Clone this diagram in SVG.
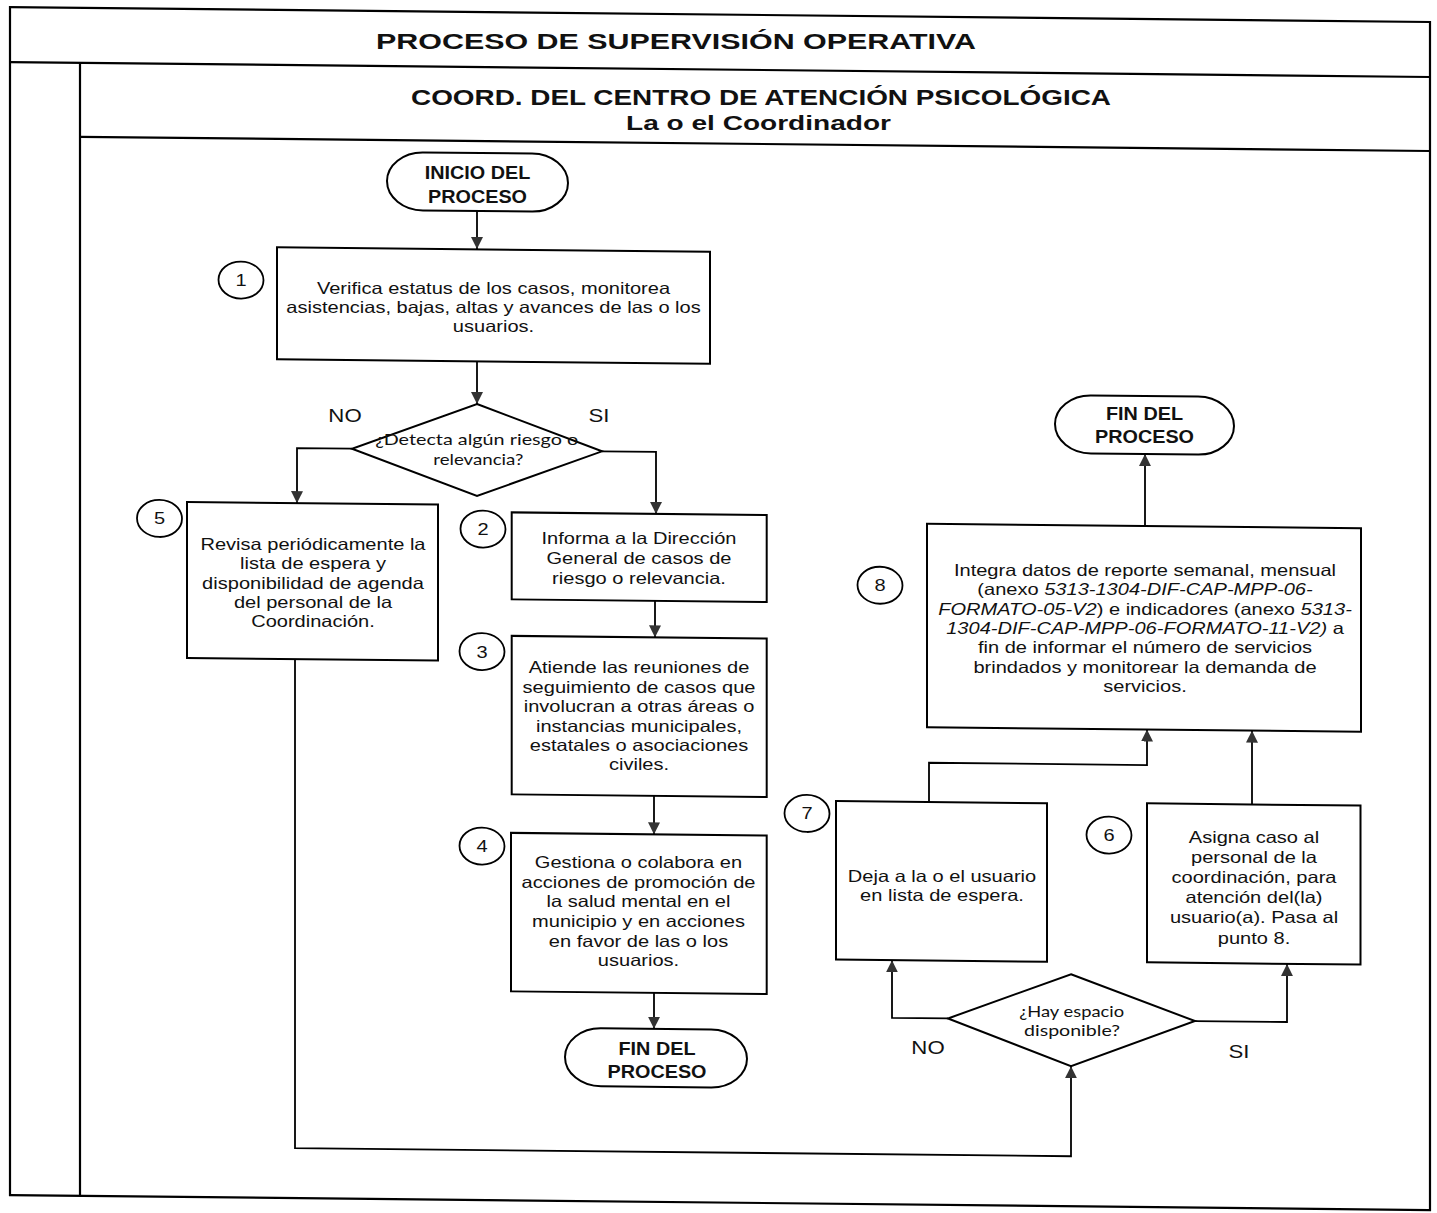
<svg xmlns="http://www.w3.org/2000/svg" width="1437" height="1213" viewBox="0 0 1437 1213">
  <defs>
    <marker id="arrow" viewBox="0 0 10 10" refX="10" refY="5" markerWidth="12" markerHeight="12" markerUnits="userSpaceOnUse" orient="auto">
      <path d="M0,0 L10,5 L0,10 z" fill="#333"/>
    </marker>
    <style>
      .frame { fill: none; stroke: #000; stroke-width: 2.2; }
      .box { fill: #fff; stroke: #000; stroke-width: 2; }
      .term { fill: #fff; stroke: #000; stroke-width: 2; }
      .num { fill: #fff; stroke: #000; stroke-width: 1.8; }
      .ln { fill: none; stroke: #000; stroke-width: 1.8; }
      .ln.arr { marker-end: url(#arrow); }
      .t { font-family: "Liberation Sans", Arial, sans-serif; font-size: 16.3px; text-anchor: middle; fill: #111; }
      .tb { font-family: "Liberation Sans", Arial, sans-serif; font-size: 18px; font-weight: bold; text-anchor: middle; fill: #111; }
      .hd { font-family: "Liberation Sans", Arial, sans-serif; font-weight: bold; text-anchor: middle; fill: #111; }
      .dq { font-family: Lato, "Liberation Sans", sans-serif; font-size: 15px; text-anchor: middle; fill: #111; }
      .lbl { font-family: "Liberation Sans", Arial, sans-serif; font-size: 18.5px; text-anchor: middle; fill: #111; }
      .it { font-style: italic; }
    </style>
  </defs>
  <rect width="1437" height="1213" fill="#fff"/>

  <!-- whole sheet, slightly skewed as printed; text elements undo the skew
       locally (matrix b term) so lines stay level and widened by 1.1-1.23 -->
  <g transform="matrix(1 0.0105 0 1 0 0)">

    <!-- frame and headers -->
    <g id="frame">
      <rect class="frame" x="10" y="7" width="1420" height="1188"/>
      <line class="frame" x1="10" y1="62" x2="1430" y2="62"/>
      <line class="frame" x1="80" y1="62" x2="80" y2="1195"/>
      <line class="frame" x1="80" y1="136" x2="1430" y2="136"/>
      <text class="hd" transform="matrix(1 -0.0105 0 1 676 0)" x="0" y="42" font-size="22.5" textLength="600" lengthAdjust="spacingAndGlyphs">PROCESO DE SUPERVISIÓN OPERATIVA</text>
      <text class="hd" transform="matrix(1 -0.0105 0 1 761 0)" x="0" y="97" font-size="21.5" textLength="700" lengthAdjust="spacingAndGlyphs">COORD. DEL CENTRO DE ATENCIÓN PSICOLÓGICA</text>
      <text class="hd" transform="matrix(1 -0.0105 0 1 758.5 0)" x="0" y="122" font-size="21" textLength="265" lengthAdjust="spacingAndGlyphs">La o el Coordinador</text>
    </g>

    <!-- connectors -->
    <g id="connectors">
      <path class="ln arr" d="M477,206 V244"/>
      <path class="ln arr" d="M477,356 V399"/>
      <path class="ln arr" d="M352,445 H297 V500"/>
      <path class="ln arr" d="M602,445 H656 V507"/>
      <path class="ln arr" d="M655,594 V630.5"/>
      <path class="ln arr" d="M654,789 V827.5"/>
      <path class="ln arr" d="M654,986 V1022"/>
      <path class="ln arr" d="M295,656 V1145 H1071 V1055"/>
      <path class="ln arr" d="M948,1008.5 H892 V951"/>
      <path class="ln arr" d="M1195,1008.5 H1287 V950.5"/>
      <path class="ln arr" d="M929,792.3 V753 H1147 V717.5"/>
      <path class="ln arr" d="M1252,791.3 V717.5"/>
      <path class="ln arr" d="M1145,514 V442"/>
      <text class="lbl" transform="matrix(1.2 -0.0126 0 1 345 0)" x="0" y="418">NO</text>
      <text class="lbl" transform="matrix(1.2 -0.0126 0 1 599 0)" x="0" y="416">SI</text>
      <text class="lbl" transform="matrix(1.2 -0.0126 0 1 928 0)" x="0" y="1044">NO</text>
      <text class="lbl" transform="matrix(1.2 -0.0126 0 1 1239 0)" x="0" y="1045">SI</text>
    </g>

    <!-- start -->
    <g id="inicio">
      <rect class="term" x="387" y="148" width="181" height="58" rx="36" ry="29"/>
      <text class="tb" transform="matrix(1.1 -0.01155 0 1 477.5 0)"><tspan x="0" y="174.3">INICIO DEL</tspan><tspan x="0" y="197.7">PROCESO</tspan></text>
    </g>

    <!-- step 1 -->
    <g id="step1">
      <rect class="box" x="277" y="244.3" width="433" height="112"/>
      <text class="t" transform="matrix(1.23 -0.0129 0 1 493.5 0)"><tspan x="0" y="289">Verifica estatus de los casos, monitorea</tspan><tspan x="0" y="308">asistencias, bajas, altas y avances de las o los</tspan><tspan x="0" y="327">usuarios.</tspan></text>
      <ellipse class="num" cx="241" cy="277.5" rx="22.5" ry="18.5"/>
      <text class="t" transform="matrix(1.23 -0.0129 0 1 241 0)" x="0" y="283.5">1</text>
    </g>

    <!-- decision: risk -->
    <g id="decision1">
      <polygon class="box" points="477,399 602,445 477,491 352,445"/>
      <text class="dq" transform="matrix(1 -0.0105 0 1 476.7 0)" x="0" y="440" textLength="203" lengthAdjust="spacingAndGlyphs">¿Detecta algún riesgo o</text>
      <text class="dq" transform="matrix(1 -0.0105 0 1 478.3 0)" x="0" y="460" textLength="90" lengthAdjust="spacingAndGlyphs">relevancia?</text>
    </g>

    <!-- step 5 -->
    <g id="step5">
      <rect class="box" x="187" y="500" width="251" height="156"/>
      <text class="t" transform="matrix(1.23 -0.0129 0 1 313 0)"><tspan x="0" y="546.7">Revisa periódicamente la</tspan><tspan x="0" y="566">lista de espera y</tspan><tspan x="0" y="585.3">disponibilidad de agenda</tspan><tspan x="0" y="604.6">del personal de la</tspan><tspan x="0" y="623.9">Coordinación.</tspan></text>
      <ellipse class="num" cx="159.5" cy="516.8" rx="22.5" ry="18.5"/>
      <text class="t" transform="matrix(1.23 -0.0129 0 1 159.5 0)" x="0" y="522.8">5</text>
    </g>

    <!-- step 2 -->
    <g id="step2">
      <rect class="box" x="511.7" y="507" width="255" height="87"/>
      <text class="t" transform="matrix(1.23 -0.0129 0 1 639 0)"><tspan x="0" y="537.3">Informa a la Dirección</tspan><tspan x="0" y="557.3">General de casos de</tspan><tspan x="0" y="577.3">riesgo o relevancia.</tspan></text>
      <ellipse class="num" cx="483" cy="524" rx="22.5" ry="18.5"/>
      <text class="t" transform="matrix(1.23 -0.0129 0 1 483 0)" x="0" y="530">2</text>
    </g>

    <!-- step 3 -->
    <g id="step3">
      <rect class="box" x="511.7" y="630.5" width="255" height="158.5"/>
      <text class="t" transform="matrix(1.23 -0.0129 0 1 639 0)"><tspan x="0" y="666.3">Atiende las reuniones de</tspan><tspan x="0" y="685.8">seguimiento de casos que</tspan><tspan x="0" y="705.3">involucran a otras áreas o</tspan><tspan x="0" y="724.8">instancias municipales,</tspan><tspan x="0" y="744.3">estatales o asociaciones</tspan><tspan x="0" y="763.8">civiles.</tspan></text>
      <ellipse class="num" cx="482" cy="646.5" rx="22.5" ry="18.5"/>
      <text class="t" transform="matrix(1.23 -0.0129 0 1 482 0)" x="0" y="652.5">3</text>
    </g>

    <!-- step 4 -->
    <g id="step4">
      <rect class="box" x="511" y="827.5" width="255.7" height="158.5"/>
      <text class="t" transform="matrix(1.23 -0.0129 0 1 638.5 0)"><tspan x="0" y="861.5">Gestiona o colabora en</tspan><tspan x="0" y="881.1">acciones de promoción de</tspan><tspan x="0" y="900.7">la salud mental en el</tspan><tspan x="0" y="920.3">municipio y en acciones</tspan><tspan x="0" y="939.9">en favor de las o los</tspan><tspan x="0" y="959.5">usuarios.</tspan></text>
      <ellipse class="num" cx="482" cy="841" rx="22.5" ry="18.5"/>
      <text class="t" transform="matrix(1.23 -0.0129 0 1 482 0)" x="0" y="847">4</text>
    </g>

    <!-- end, left branch -->
    <g id="fin1">
      <rect class="term" x="565" y="1022" width="182" height="58" rx="36" ry="29"/>
      <text class="tb" transform="matrix(1.1 -0.01155 0 1 657 0)"><tspan x="0" y="1048">FIN DEL</tspan><tspan x="0" y="1071">PROCESO</tspan></text>
    </g>

    <!-- end, right branch -->
    <g id="fin2">
      <rect class="term" x="1055" y="384" width="179" height="58" rx="36" ry="29"/>
      <text class="tb" transform="matrix(1.1 -0.01155 0 1 1144.5 0)"><tspan x="0" y="408">FIN DEL</tspan><tspan x="0" y="431">PROCESO</tspan></text>
    </g>

    <!-- step 8 -->
    <g id="step8">
      <rect class="box" x="927" y="514" width="434" height="203.5"/>
      <text class="t" transform="matrix(1.23 -0.0129 0 1 1145 0)"><tspan x="0" y="564">Integra datos de reporte semanal, mensual</tspan><tspan x="0" y="583.3">(anexo <tspan class="it">5313-1304-DIF-CAP-MPP-06-</tspan></tspan><tspan x="0" y="602.6"><tspan class="it">FORMATO-05-V2</tspan>) e indicadores (anexo <tspan class="it">5313-</tspan></tspan><tspan x="0" y="621.9"><tspan class="it">1304-DIF-CAP-MPP-06-FORMATO-11-V2)</tspan> a</tspan><tspan x="0" y="641.2">fin de informar el número de servicios</tspan><tspan x="0" y="660.5">brindados y monitorear la demanda de</tspan><tspan x="0" y="679.8">servicios.</tspan></text>
      <ellipse class="num" cx="880" cy="576" rx="22.5" ry="18.5"/>
      <text class="t" transform="matrix(1.23 -0.0129 0 1 880 0)" x="0" y="582">8</text>
    </g>

    <!-- step 7 -->
    <g id="step7">
      <rect class="box" x="836" y="792.3" width="211" height="158.5"/>
      <text class="t" transform="matrix(1.23 -0.0129 0 1 942 0)"><tspan x="0" y="872">Deja a la o el usuario</tspan><tspan x="0" y="891">en lista de espera.</tspan></text>
      <ellipse class="num" cx="807" cy="805" rx="22.5" ry="18.5"/>
      <text class="t" transform="matrix(1.23 -0.0129 0 1 807 0)" x="0" y="811">7</text>
    </g>

    <!-- step 6 -->
    <g id="step6">
      <rect class="box" x="1147" y="791.3" width="213.5" height="159"/>
      <text class="t" transform="matrix(1.23 -0.0129 0 1 1254 0)"><tspan x="0" y="829.5">Asigna caso al</tspan><tspan x="0" y="849.7">personal de la</tspan><tspan x="0" y="869.9">coordinación, para</tspan><tspan x="0" y="890.1">atención del(la)</tspan><tspan x="0" y="910.3">usuario(a). Pasa al</tspan><tspan x="0" y="930.5">punto 8.</tspan></text>
      <ellipse class="num" cx="1109" cy="823.4" rx="22.5" ry="18.5"/>
      <text class="t" transform="matrix(1.23 -0.0129 0 1 1109 0)" x="0" y="829.4">6</text>
    </g>

    <!-- decision: space available -->
    <g id="decision2">
      <polygon class="box" points="1071,963 1195,1008.5 1071,1055 948,1008.5"/>
      <text class="dq" transform="matrix(1 -0.0105 0 1 1071.7 0)" x="0" y="1005.5" textLength="104.7" lengthAdjust="spacingAndGlyphs">¿Hay espacio</text>
      <text class="dq" transform="matrix(1 -0.0105 0 1 1072 0)" x="0" y="1025" textLength="96" lengthAdjust="spacingAndGlyphs">disponible?</text>
    </g>
  </g>
</svg>
